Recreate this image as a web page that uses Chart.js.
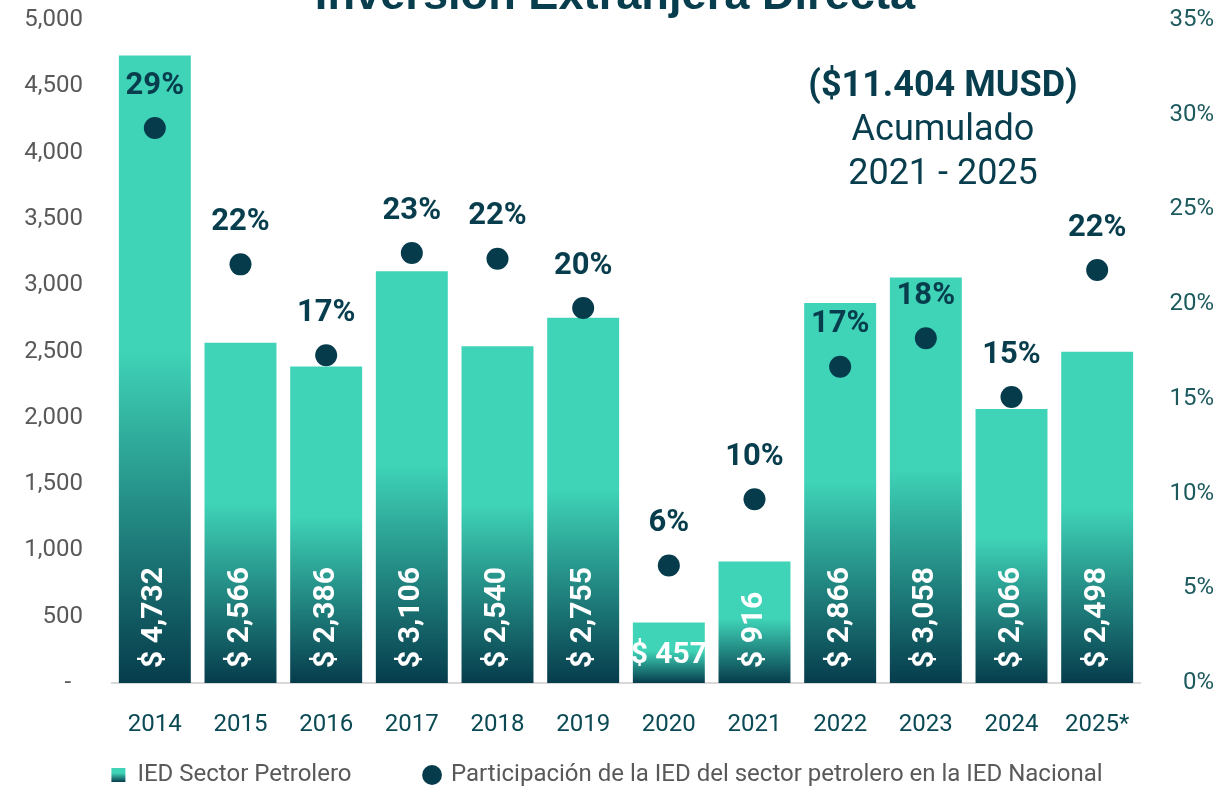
<!DOCTYPE html>
<html>
<head>
<meta charset="utf-8">
<script src="https://cdn.jsdelivr.net/npm/chart.js@4"></script>
<style>
  html, body { margin: 0; padding: 0; background: #fff; }
  #wrap { width: 1219px; height: 788px; }
</style>
</head>
<body>
<div id="wrap"><canvas id="c"></canvas></div>
<script>
// datos
const years = ['2014', '2015', '2016', '2017', '2018', '2019', '2020', '2021', '2022', '2023', '2024', '2025*'];
const iedSector = [4732, 2566, 2386, 3106, 2540, 2755, 457, 916, 2866, 3058, 2066, 2498];
const participacion = [29.3, 22.1, 17.3, 22.7, 22.4, 19.8, 6.2, 9.7, 16.7, 18.2, 15.1, 21.8];
const noteLines = ['($11.404 MUSD)', 'Acumulado', '2021 - 2025'];

const light = '#3fd4b8', dark = '#063c4c', navy = '#063b4b', titleColor = '#073d4c';
Chart.defaults.font.family = 'Roboto, "Open Sans", sans-serif';

function barGradient(ctx) {
  const chart = ctx.chart;
  if (!chart.chartArea || ctx.type !== 'data') return light;
  const y = chart.scales.y;
  const top = y.getPixelForValue(ctx.raw), base = y.getPixelForValue(0);
  const g = chart.ctx.createLinearGradient(0, top, 0, base);
  g.addColorStop(0, light); g.addColorStop(0.47, light); g.addColorStop(1, dark);
  return g;
}

const titlePlugin = {
  id: 'titleNote',
  afterDraw(chart) {
    const ctx = chart.ctx;
    ctx.save();
    ctx.fillStyle = titleColor; ctx.textAlign = 'center'; ctx.textBaseline = 'alphabetic';
    const t = 'Inversión Extranjera Directa';
    ctx.font = 'bold 40px "Liberation Sans", Arial, sans-serif';
    const s = 40 * 600 / ctx.measureText(t).width;
    ctx.font = 'bold ' + s.toFixed(1) + 'px "Liberation Sans", Arial, sans-serif';
    ctx.fillText(t, 615, 9);
    ctx.textBaseline = 'middle';
    ctx.font = 'bold 36px Roboto, sans-serif';
    ctx.fillText(noteLines[0], 943, 87);
    ctx.font = '36px Roboto, sans-serif';
    ctx.fillText(noteLines[1], 943, 131);
    ctx.fillText(noteLines[2], 943, 175);
    ctx.restore();
  }
};

const labelsPlugin = {
  id: 'valueLabels',
  afterDatasetsDraw(chart) {
    const ctx = chart.ctx;
    ctx.save();
    ctx.font = 'bold 30px Roboto, sans-serif';
    ctx.fillStyle = '#fff';
    chart.getDatasetMeta(0).data.forEach((bar, i) => {
      const txt = '$ ' + iedSector[i].toLocaleString('en-US');
      const w = ctx.measureText(txt).width;
      if (bar.base - bar.y > w + 20) {
        ctx.save(); ctx.translate(bar.x, bar.base - 15); ctx.rotate(-Math.PI / 2);
        ctx.textAlign = 'left'; ctx.textBaseline = 'middle'; ctx.fillText(txt, 0, 0);
        ctx.restore();
      } else {
        ctx.textAlign = 'center'; ctx.textBaseline = 'middle';
        ctx.fillText(txt, bar.x, bar.base - 28);
      }
    });
    ctx.font = 'bold 31px Roboto, sans-serif';
    ctx.fillStyle = titleColor; ctx.textAlign = 'center'; ctx.textBaseline = 'middle';
    chart.getDatasetMeta(1).data.forEach((pt, i) => {
      ctx.fillText(Math.round(participacion[i]) + '%', pt.x, pt.y - 42);
    });
    ctx.restore();
  }
};

new Chart(document.getElementById('c'), {
  type: 'bar',
  data: {
    labels: years,
    datasets: [
      { type: 'bar', label: 'IED Sector Petrolero', data: iedSector, yAxisID: 'y', order: 1,
        backgroundColor: barGradient, borderWidth: 0, categoryPercentage: 1, barPercentage: 0.84 },
      { type: 'line', label: 'Participación de la IED del sector petrolero en la IED Nacional', data: participacion,
        yAxisID: 'y1', order: 0, showLine: false, pointRadius: 11, pointBackgroundColor: navy, pointBorderWidth: 0,
        borderColor: navy, backgroundColor: navy }
    ]
  },
  options: {
    responsive: true, maintainAspectRatio: false, animation: false,
    layout: { padding: { top: 20, right: 5, left: 0, bottom: 0 } },
    plugins: {
      tooltip: { enabled: false },
      legend: {
        position: 'bottom', maxHeight: 39,
        labels: {
          usePointStyle: true, boxWidth: 14, boxHeight: 14, padding: 14, color: '#595959', font: { size: 24 },
          generateLabels(chart) {
            const g = chart.ctx.createLinearGradient(0, 767, 0, 782);
            g.addColorStop(0, light); g.addColorStop(0.4, light); g.addColorStop(1, dark);
            const ds = chart.data.datasets;
            return [
              { text: ds[0].label + '          ', fillStyle: g, strokeStyle: g, lineWidth: 0, pointStyle: 'rect', datasetIndex: 0, hidden: false, fontColor: '#595959' },
              { text: ds[1].label, fillStyle: navy, strokeStyle: navy, lineWidth: 0, pointStyle: 'circle', datasetIndex: 1, hidden: false, fontColor: '#595959' }
            ];
          }
        }
      }
    },
    scales: {
      x: {
        grid: { display: false }, border: { color: '#d9d9d9', width: 2 },
        ticks: { color: '#0b4a55', font: { size: 24 }, padding: 20 },
        afterFit(s) { s.height = 66; }
      },
      y: {
        position: 'left', min: 0, max: 5000,
        grid: { display: false, tickLength: 28 }, border: { display: false },
        ticks: { stepSize: 500, padding: 1, color: '#595959', font: { size: 24 },
          callback: v => v === 0 ? '-  ' : v.toLocaleString('en-US') },
        afterFit(s) { s.width = 112; }
      },
      y1: {
        position: 'right', min: 0, max: 35,
        grid: { display: false }, border: { display: false },
        ticks: { stepSize: 5, padding: 1, color: '#1d5a5e', font: { size: 24 }, crossAlign: 'far', callback: v => v + '%' },
        afterFit(s) { s.width = 74; }
      }
    }
  },
  plugins: [titlePlugin, labelsPlugin]
});
</script>
</body>
</html>
